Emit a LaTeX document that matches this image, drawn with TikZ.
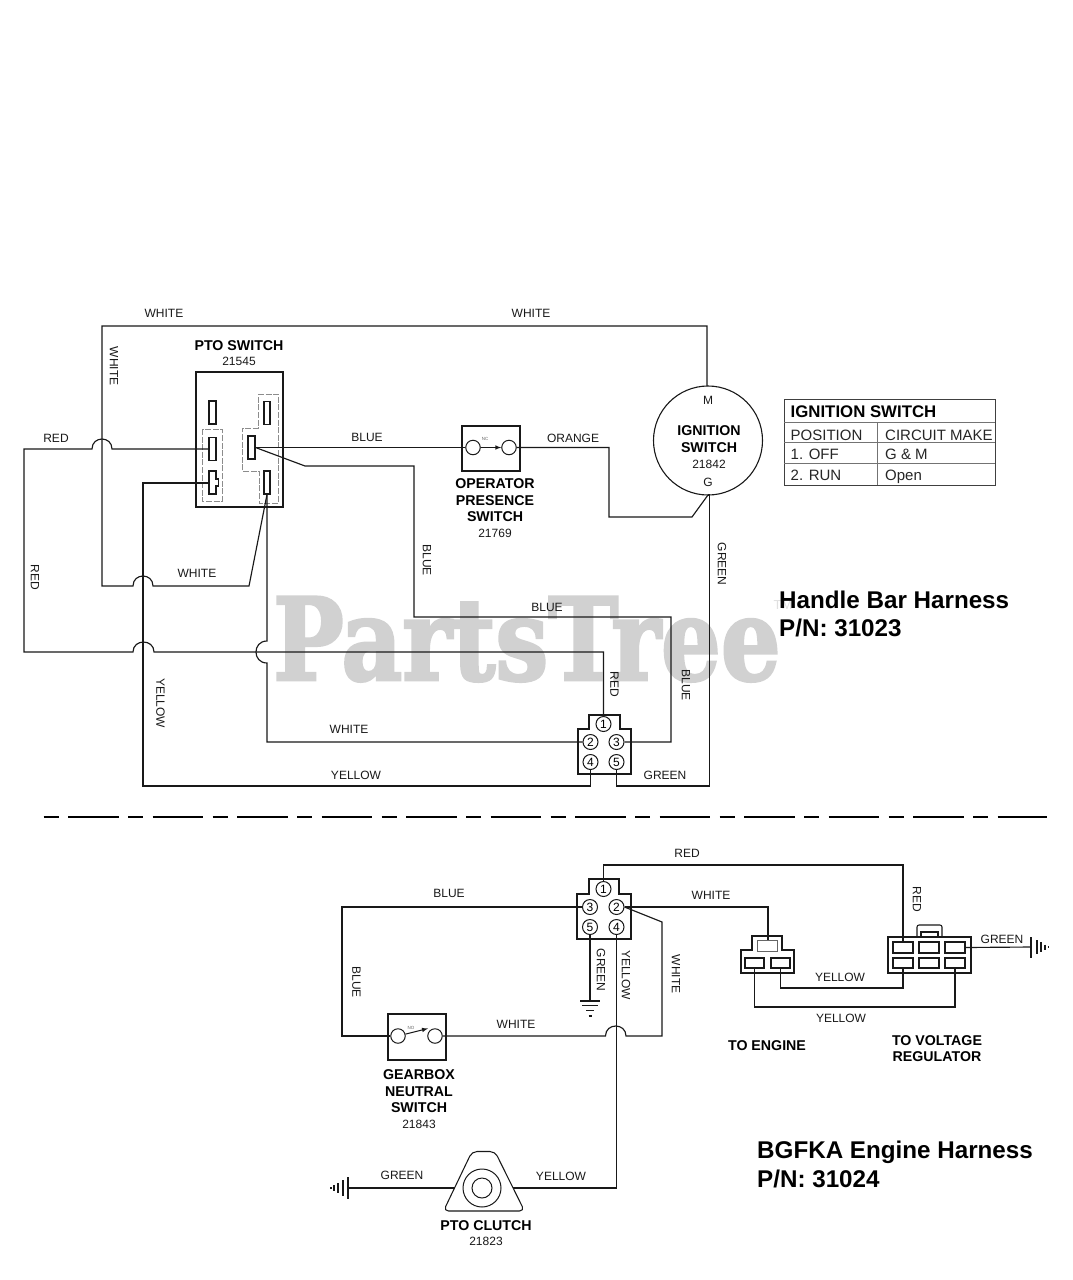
\documentclass[tikz,border=0pt]{standalone}
\usepackage{fontspec}
\setmainfont{Liberation Sans}
\font\wmfont="DejaVu Serif/B:embolden=2.5" at 114pt
\newcommand{\fsz}[1]{\fontsize{#1}{#1}\selectfont}
\begin{document}
\begin{tikzpicture}[x=1pt,y=-1pt,
  wire/.style={draw=black!90,line width=1.15pt,line join=miter},
  thin part/.style={draw=black!90,line width=1.05pt},
  terminal/.style={draw=black!90,line width=1.05pt,fill=white,inner sep=0,minimum width=#1},
  gdash/.style={draw=black!45,line width=.8pt,dash pattern=on 6pt off 1.6pt},
  pin/.style={circle,draw=black!90,line width=1pt,fill=white,inner sep=0,minimum size=15pt,font=\fsz{12}},
  swc/.style={circle,draw=black!90,line width=1pt,fill=white,inner sep=0,minimum size=14.5pt},
  lbl/.style={inner sep=0,font=\fsz{12},text=black!90},
  hd/.style={inner sep=0,font=\fsz{14.2}\bfseries,text=black},
  tb/.style={inner sep=0,anchor=base west,font=\fsz{15},text=black!85},
  big/.style={inner sep=0,anchor=base west,font=\fsz{24.2}\bfseries,text=black}]
\useasboundingbox (0,0) rectangle (1073,1280);
\fill[white] (0,0) rectangle (1073,1280);
% watermark
\node[inner sep=0,anchor=base west,xscale=.825,text=black!18] (wm) at (273,680) {\wmfont PartsTree};
\node[inner sep=0,text=black!12,font=\fsz{13}] (tm) at (783,605) {TM};

% ---------- Upper harness components
\draw[thin part] (196,372) rectangle (283,507);
\draw[gdash] (202,429) rectangle (222,501);
\draw[gdash] (258,394) -- (278,394) -- (278,503) -- (259,503) -- (259,471) -- (242,471) -- (242,428) -- (258,428) -- cycle;
\node[terminal=7pt,minimum height=23pt] (t1) at (212.5,412.5) {};
\node[terminal=7pt,minimum height=23pt] (t2) at (212.5,449) {};
\node[terminal=6pt,minimum height=23pt] (t4) at (267,413) {};
\node[terminal=7pt,minimum height=23pt] (t5) at (251.5,447.5) {};
\node[terminal=6pt,minimum height=23pt] (t6) at (267,482.5) {};
\draw[thin part,fill=white] (209,471) -- (216,471) -- (216,479) -- (218.5,479) -- (218.5,486) -- (216,486) -- (216,494) -- (209,494) -- cycle;
\coordinate (t3) at (209,483);

% op presence
\draw[thin part] (462,426) rectangle (520,471);
\node[swc] (oa) at (473,447.5) {};
\node[swc] (ob) at (509,447.5) {};
\draw[thin part,-latex] (oa) -- (ob);
\node[inner sep=0,font=\fsz{4.5},text=black!60] (nc) at (485,438.5) {NC};

% ignition
\node[circle,draw=black!90,line width=1.1pt,minimum size=109pt,inner sep=0] (ign) at (708,440.5) {};

% upper connector
\draw[thin part] (589,715) -- (620,715) -- (620,729) -- (631,729) -- (631,774) -- (578,774) -- (578,729) -- (589,729) -- cycle;
\node[pin] (a1) at (603.5,724) {1};
\node[pin] (a2) at (590.5,742) {2};
\node[pin] (a3) at (616.5,742) {3};
\node[pin] (a4) at (590.5,762) {4};
\node[pin] (a5) at (616.5,762) {5};

% ---------- Upper wires
\coordinate (ignM) at (707,386);
\coordinate (ignG) at (708,495);
\draw[wire] (ignM) -- (707,326) -- (102,326) -- (102,586) -- (133,586)
  .. controls (133,572.7) and (153,572.7) .. (153,586) -- (249,586) -- (t6.south);
\draw[wire] (t2.west) -- (112,449) .. controls (112,435.7) and (92,435.7) .. (92,449) -- (24,449) -- (24,652) -- (133,652)
  .. controls (133,638.7) and (154,638.7) .. (154,652) -- (603.5,652) -- (a1.north);
\draw[wire] (t6.south) -- (267,641) .. controls (252.3,641) and (252.3,663) .. (267,663) -- (267,742) -- (a2.west);
\draw[wire] (t3) -- (143,483) -- (143,786) -- (590.5,786) -- (a4.south);
\draw[wire] (t5.east) -- (oa.west);
\draw[wire] (t5.east) -- (305,466) -- (414,466) -- (414,617) -- (671,617) -- (671,742) -- (a3.east);
\draw[wire] (ob.east) -- (609,447.5) -- (609,517) -- (692,517) -- (ignG);
\draw[wire] (ignG) -- (709.5,495) -- (709.5,786) -- (616.5,786) -- (a5.south);

% ---------- Upper labels
\node[lbl] (l1) at (164,313) {WHITE};
\node[lbl] (l2) at (531,313) {WHITE};
\node[lbl,rotate=-90] (l3) at (114,366) {WHITE};
\node[hd] (l4) at (239,346) {PTO SWITCH};
\node[lbl] (l5) at (239,361) {21545};
\node[lbl] (l6) at (56,438) {RED};
\node[lbl,rotate=-90] (l7) at (35,577) {RED};
\node[lbl] (l8) at (197,573) {WHITE};
\node[lbl] (l9) at (367,437) {BLUE};
\node[lbl] (l10) at (573,438) {ORANGE};
\node[lbl,rotate=-90] (l11) at (427,560) {BLUE};
\node[hd] (l12) at (495,484) {OPERATOR};
\node[hd] (l13) at (495,500.5) {PRESENCE};
\node[hd] (l14) at (495,517) {SWITCH};
\node[lbl] (l15) at (495,533) {21769};
\node[lbl] (l16) at (708,400.5) {M};
\node[hd] (l17) at (709,431) {IGNITION};
\node[hd] (l18) at (709,448) {SWITCH};
\node[lbl] (l19) at (709,464) {21842};
\node[lbl] (l20) at (708,482) {G};
\node[lbl,rotate=-90] (l21) at (722,564) {GREEN};
\node[lbl] (l22) at (547,607.5) {BLUE};
\node[lbl,rotate=-90] (l23) at (614.5,684) {RED};
\node[lbl,rotate=-90] (l24) at (686,685) {BLUE};
\node[lbl,rotate=-90] (l25) at (160.5,703) {YELLOW};
\node[lbl] (l26) at (349,729) {WHITE};
\node[lbl] (l27) at (356,775) {YELLOW};
\node[lbl] (l28) at (665,775) {GREEN};
\node[big] (l29) at (779,608.5) {Handle Bar Harness};
\node[big] (l30) at (779,636.5) {P/N: 31023};

% ignition table
\draw[draw=black!75,line width=.9pt] (784,399) rectangle (995,485);
\draw[draw=black!55,line width=.9pt] (784,422) -- (995,422) (784,442.5) -- (995,442.5) (784,463.5) -- (995,463.5) (877.5,422) -- (877.5,485);
\node[tb,font=\fsz{16.8}\bfseries,text=black] (k0) at (790.5,417.5) {IGNITION SWITCH};
\node[tb] (k1) at (790.5,440) {POSITION};
\node[tb] (k2) at (885,440) {CIRCUIT MAKE};
\node[tb] (k3) at (790.5,459.5) {1. OFF};
\node[tb] (k4) at (885,459.5) {G \& M};
\node[tb] (k5) at (790.5,480) {2. RUN};
\node[tb] (k6) at (885,480) {Open};

% separator
\coordinate (sepA) at (43.5,817);
\coordinate (sepB) at (1046.5,817);
\draw[line width=1.7pt,black,dash pattern=on 15pt off 9.5pt on 50.5pt off 9.5pt] (sepA) -- (sepB);

% ---------- Lower harness components
\draw[thin part] (589,879) -- (619,879) -- (619,894) -- (631,894) -- (631,939) -- (577,939) -- (577,894) -- (589,894) -- cycle;
\node[pin] (b1) at (603.5,889) {1};
\node[pin] (b3) at (590,907) {3};
\node[pin] (b2) at (616.5,907) {2};
\node[pin] (b5) at (590,927) {5};
\node[pin] (b4) at (616.5,927) {4};

% gearbox switch
\draw[thin part] (388,1014) rectangle (446,1060);
\node[swc] (ga) at (398,1036) {};
\node[swc] (gb) at (435,1036) {};
\draw[thin part,-latex] (ga) -- (428,1028.5);
\node[inner sep=0,font=\fsz{4.5},text=black!60] (no) at (411,1027.5) {NO};

% to engine connector
\draw[thin part] (752,936) -- (782,936) -- (782,950) -- (794,950) -- (794,973) -- (741,973) -- (741,950) -- (752,950) -- cycle;
\node[draw=black!60,line width=1pt,inner sep=0,minimum width=20pt,minimum height=11pt] (e1) at (767,945.5) {};
\node[terminal=19pt,minimum height=10pt] (e2) at (754.5,963) {};
\node[terminal=19pt,minimum height=10pt] (e3) at (780.5,963) {};

% regulator connector
\draw[thin part,rounded corners=2pt] (917,937) -- (917,925) -- (942,925) -- (942,937);
\draw[thin part] (921,937) -- (921,932) -- (938,932) -- (938,937);
\draw[thin part] (888,937) rectangle (971,973);
\node[terminal=20pt,minimum height=11pt] (r1) at (903,947.5) {};
\node[terminal=20pt,minimum height=11pt] (r2) at (929,947.5) {};
\node[terminal=20pt,minimum height=11pt] (r3) at (955,947.5) {};
\node[terminal=20pt,minimum height=10pt] (r4) at (903,963) {};
\node[terminal=20pt,minimum height=10pt] (r5) at (929,963) {};
\node[terminal=20pt,minimum height=10pt] (r6) at (955,963) {};

% PTO clutch
\draw[thin part,rounded corners=5pt] (472,1151.5) -- (495,1151.5) -- (524.5,1211) -- (443.5,1211) -- cycle;
\node[circle,draw=black!90,line width=1pt,fill=white,minimum size=38pt,inner sep=0] (cl) at (482,1188) {};
\node[circle,draw=black!90,line width=1pt,minimum size=20pt,inner sep=0] (cli) at (482,1188) {};
\coordinate (clL) at (455,1188);
\coordinate (clR) at (513,1188);

% grounds
\coordinate (gd1) at (590,1001);
\coordinate (gd2) at (1031,947);
\coordinate (gd3) at (348,1188);
\draw[thin part] (580,1001) -- (600,1001) (582,1005.5) -- (598,1005.5) (586,1010.5) -- (594,1010.5) (588.5,1016) -- (591.5,1016);
\draw[thin part] (1031,937) -- (1031,958) (1037,940) -- (1037,954) (1041,942) -- (1041,952) (1045,944.5) -- (1045,950) (1048.5,946) -- (1048.5,948);
\draw[thin part] (348,1177) -- (348,1199) (343,1180) -- (343,1196) (338,1183) -- (338,1193) (334,1185) -- (334,1191) (331,1187) -- (331,1189);

% ---------- Lower wires
\draw[wire] (b1.north) -- (603.5,865) -- (903,865) -- (r1.north);
\draw[wire] (b3.west) -- (342,907) -- (342,1036) -- (ga.west);
\draw[wire] (b2.east) -- (768,907) -- (768,940);
\draw[wire] (b2.east) -- (662,922) -- (662,1036) -- (626,1036) .. controls (626,1022.7) and (605.5,1022.7) .. (605.5,1036) -- (gb.east);
\draw[wire] (b5.south) -- (gd1);
\draw[wire] (b4.south) -- (616.5,1188) -- (clR);
\draw[wire] (clL) -- (gd3);
\draw[wire] (r3.east) -- (gd2);
\draw[wire] (e3.south) -- (780.5,988) -- (903,988) -- (r4.south);
\draw[wire] (e2.south) -- (754.5,1007) -- (955,1007) -- (r6.south);

% ---------- Lower labels
\node[lbl] (m1) at (687,853) {RED};
\node[lbl] (m2) at (449,893) {BLUE};
\node[lbl] (m3) at (711,895) {WHITE};
\node[lbl,rotate=-90] (m4) at (917,899) {RED};
\node[lbl] (m5) at (1002,939.5) {GREEN};
\node[lbl] (m6) at (840,977) {YELLOW};
\node[lbl] (m7) at (841,1018) {YELLOW};
\node[lbl,rotate=-90] (m8) at (601,970) {GREEN};
\node[lbl,rotate=-90] (m9) at (626,975) {YELLOW};
\node[lbl,rotate=-90] (m10) at (676,974) {WHITE};
\node[lbl,rotate=-90] (m11) at (356.5,982) {BLUE};
\node[lbl] (m12) at (516,1024) {WHITE};
\node[hd] (m13) at (767,1045.5) {TO ENGINE};
\node[hd] (m14) at (937,1040.5) {TO VOLTAGE};
\node[hd] (m15) at (937,1057) {REGULATOR};
\node[hd] (m16) at (419,1075) {GEARBOX};
\node[hd] (m17) at (419,1092) {NEUTRAL};
\node[hd] (m18) at (419,1108) {SWITCH};
\node[lbl] (m19) at (419,1124) {21843};
\node[lbl] (m20) at (402,1175.5) {GREEN};
\node[lbl] (m21) at (561,1176) {YELLOW};
\node[hd] (m22) at (486,1226) {PTO CLUTCH};
\node[lbl] (m23) at (486,1241) {21823};
\node[big] (m24) at (757,1158.5) {BGFKA Engine Harness};
\node[big] (m25) at (757,1187.5) {P/N: 31024};
\end{tikzpicture}
\end{document}
